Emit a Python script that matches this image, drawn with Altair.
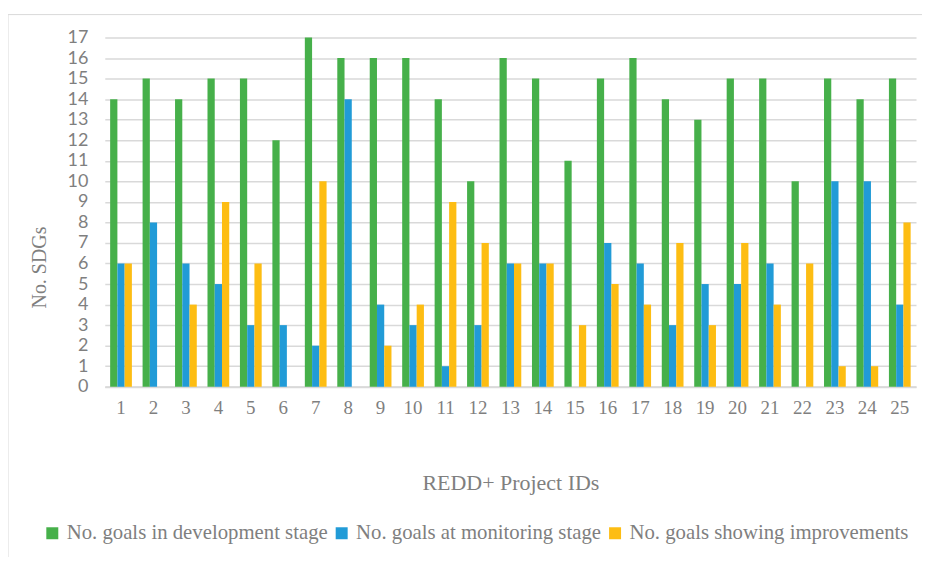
import altair as alt
import pandas as pd

projects = [str(i) for i in range(1, 26)]
development = [14, 15, 14, 15, 15, 12, 17, 16, 16, 16, 14, 10, 16, 15, 11, 15, 16, 14, 13, 15, 15, 10, 15, 14, 15]
monitoring = [6, 8, 6, 5, 3, 3, 2, 14, 4, 3, 1, 3, 6, 6, 0, 7, 6, 3, 5, 5, 6, 0, 10, 10, 4]
improvements = [6, 0, 4, 9, 6, 0, 10, 0, 2, 4, 9, 7, 6, 6, 3, 5, 4, 7, 3, 7, 4, 6, 1, 1, 8]
y_ticks = list(range(0, 18))

series = ["No. goals in development stage", "No. goals at monitoring stage", "No. goals showing improvements"]
colors = ["#46b04a", "#219bd7", "#fdbd13"]

rows = []
for i, p in enumerate(projects):
    for s, vals in zip(series, [development, monitoring, improvements]):
        rows.append({"project": p, "series": s, "value": vals[i]})
df = pd.DataFrame(rows)

serif = "Liberation Serif"
gray = "#7f7f7f"

bars = alt.Chart(df).mark_bar(stroke=None).encode(
    x=alt.X("project:N", sort=projects,
            scale=alt.Scale(paddingInner=0.33, paddingOuter=0.165),
            axis=alt.Axis(title="REDD+ Project IDs", labelAngle=0, domain=True, ticks=False,
                          domainColor="#d9d9d9", domainWidth=2,
                          labelFont=serif, labelFontSize=19, labelColor=gray, labelPadding=12,
                          titleFont=serif, titleFontSize=22, titleColor=gray, titleFontWeight="normal",
                          titleY=96, titleBaseline="middle", grid=False)),
    xOffset=alt.XOffset("series:N", sort=series, scale=alt.Scale(paddingInner=0, domain=series)),
    y=alt.Y("value:Q", scale=alt.Scale(domain=[0, 17], nice=False),
            axis=alt.Axis(title="No. SDGs", values=y_ticks, labelOverlap=False,
                          domain=False, ticks=False,
                          labelFont="Lato", labelFontSize=18, labelColor=gray, labelPadding=17,
                          gridColor="#d9d9d9", gridWidth=1.5,
                          titleFont=serif, titleFontSize=20, titleColor=gray, titleFontWeight="normal",
                          titleX=-65, titleY=230, titleBaseline="middle", titleAngle=-90)),
    color=alt.Color("series:N", sort=series,
                    scale=alt.Scale(domain=series, range=colors),
                    legend=alt.Legend(title=None, orient="none", direction="horizontal",
                                      legendX=-63, legendY=486, symbolType="square", symbolSize=144,
                                      symbolStrokeWidth=0, labelFont=serif, labelFontSize=20.8,
                                      labelColor=gray, columnPadding=3, labelOffset=4,
                                      labelLimit=400)),
)

border_left = alt.Chart(pd.DataFrame({"v": [0]})).mark_rule(color="#d9d9d9", strokeWidth=1).encode(
    x=alt.value(-97), y=alt.value(-23), y2=alt.value(540))
border_top = alt.Chart(pd.DataFrame({"v": [0]})).mark_rule(color="#d9d9d9", strokeWidth=1).encode(
    x=alt.value(-97), x2=alt.value(830), y=alt.value(-23))

chart = alt.layer(bars, border_left, border_top).properties(
    width=813, height=350,
    autosize=alt.AutoSizeParams(type="none"),
    padding={"left": 97, "top": 29, "right": 6, "bottom": 170},
).configure_view(stroke=None)

chart.save("out.html", embed_options={"renderer": "svg", "actions": False})
